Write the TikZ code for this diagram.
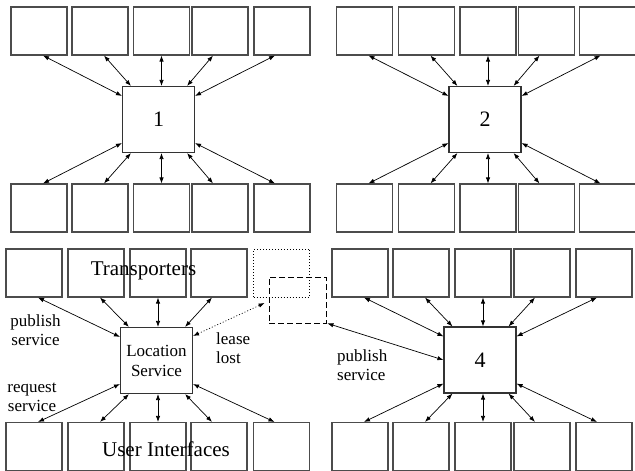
\documentclass[tikz,border=0pt]{standalone}
\usepackage{fontspec}
\setmainfont{Liberation Serif}
\usetikzlibrary{arrows.meta}
\begin{document}
\begin{tikzpicture}[x=1pt,y=-1pt,
  sbox/.style={draw=black!70, line width=1.1pt, minimum width=56pt, minimum height=48pt, inner sep=0pt},
  hub/.style={draw=black!80, line width=1.1pt, minimum width=72pt, minimum height=66pt, inner sep=0pt, font=\fontsize{22}{24}\selectfont},
  link/.style={line width=0.7pt, {Latex[length=6pt,width=4.4pt]}-{Latex[length=6pt,width=4.4pt]}},
  lbl/.style={font=\fontsize{17}{19}\selectfont, inner sep=0pt, align=center},
  big/.style={font=\fontsize{21}{24}\selectfont, inner sep=0pt}]
\useasboundingbox (0,0) rectangle (635,471);

% group 1
\foreach \x [count=\i] in {39,100,161.5,220,282}{
  \node[sbox] (g1t\i) at (\x,31) {};
  \node[sbox] (g1b\i) at (\x,208) {};
}
\node[hub] (g1c) at (158.5,119.5) {1};

% group 2
\foreach \x [count=\i] in {364.5,426.5,488,546.5,607.5}{
  \node[sbox] (g2t\i) at (\x,31) {};
  \node[sbox] (g2b\i) at (\x,208) {};
}
\node[hub] (g2c) at (485,119.5) {2};

% group 3
\foreach \x [count=\i] in {34,96,158,219}{
  \node[sbox] (g3t\i) at (\x,273) {};
}
\foreach \x [count=\i] in {34,96,158,219,281.5}{
  \node[sbox] (g3b\i) at (\x,446.5) {};
}
\node[sbox, draw=black, line width=0.7pt, dash pattern=on 1pt off 2pt] (g3t5) at (281.5,273) {};
\node[draw=black, line width=0.8pt, dash pattern=on 6pt off 3pt, minimum width=57pt, minimum height=46pt, inner sep=0pt] (ds) at (297.5,300) {};
\node[hub, font=\fontsize{17}{20}\selectfont, align=center] (g3c) at (156.5,360.5) {Location\\Service};

% group 4
\foreach \x [count=\i] in {360,421,483,542,604}{
  \node[sbox] (g4t\i) at (\x,273) {};
  \node[sbox] (g4b\i) at (\x,446.5) {};
}
\node[hub] (g4c) at (480,360) {4};

% arrows
\foreach \g in {g1,g2,g4}{
  \draw[link] ([xshift=-7pt]\g t5.south) -- ([yshift=-10pt]\g c.north east);
}
\foreach \g in {g1,g2,g3,g4}{
  \draw[link] ([xshift=4pt]\g t1.south) -- ([yshift=-10pt]\g c.north west);
  \draw[link] ([xshift=4pt]\g t2.south) -- ([xshift=9pt]\g c.north west);
  \draw[link] (\g t3.south) -- (\g t3.south |- \g c.north);
  \draw[link] ([xshift=-7pt]\g t4.south) -- ([xshift=-8pt]\g c.north east);
  \draw[link] ([xshift=4pt]\g b1.north) -- ([yshift=10pt]\g c.south west);
  \draw[link] ([xshift=4pt]\g b2.north) -- ([xshift=9pt]\g c.south west);
  \draw[link] (\g b3.north) -- (\g b3.north |- \g c.south);
  \draw[link] ([xshift=-7pt]\g b4.north) -- ([xshift=-8pt]\g c.south east);
  \draw[link] ([xshift=-7pt]\g b5.north) -- ([yshift=10pt]\g c.south east);
}

\draw[link, dash pattern=on 1pt off 2pt] ([yshift=-9pt]g3c.north east) -- ([xshift=-4pt,yshift=-3pt]ds.west);
\draw[link] ([xshift=1pt]ds.south east) -- (g4c.west);

% labels
\node[lbl] (pub1) at (35.5,330) {publish\\service};
\node[lbl] (req) at (32,397) {request\\service};
\node[lbl, align=left, anchor=west] (lease) at (216,348) {lease\\lost};
\node[lbl, align=left, anchor=west] (pub2) at (337,365) {publish\\service};
\node[big] (tr) at (143.5,271) {Transporters};
\node[big] (ui) at (166,449) {User Interfaces};
\end{tikzpicture}
\end{document}
